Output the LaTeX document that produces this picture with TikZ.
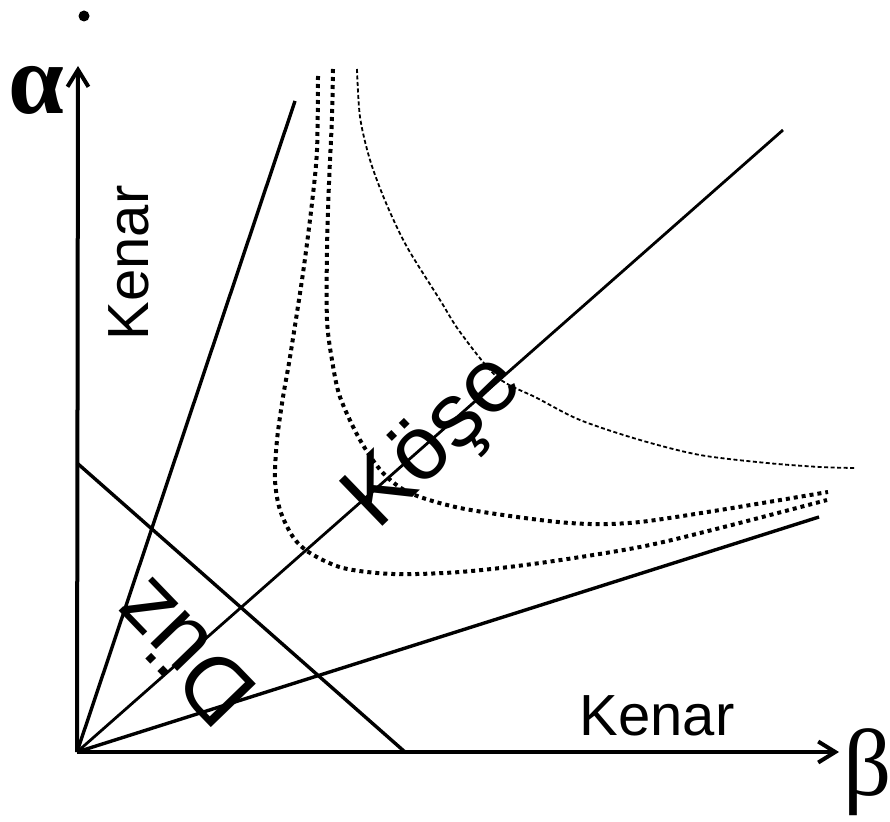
\documentclass[tikz,border=0pt]{standalone}
\usepackage{fontspec}
\setmainfont{Liberation Sans}
\newfontfamily\grk{Liberation Serif}
\usetikzlibrary{arrows.meta}
\begin{document}
\begin{tikzpicture}[x=1pt,y=-1pt,
  axis/.style={line width=4pt, -{Straight Barb[length=17pt,width=21pt]}},
  ray/.style={line width=3.4pt},
  thinray/.style={line width=2.8pt},
  dotcurve/.style={line width=4pt, dash pattern=on 4pt off 4pt},
  dashcurve/.style={line width=1.8pt, dash pattern=on 4pt off 2.5pt},
  lbl/.style={inner sep=0pt, font=\fontsize{58}{60}\selectfont},
  big/.style={inner sep=0pt, font=\fontsize{91}{95}\selectfont},
  greek/.style={inner sep=0pt, font=\grk\fontsize{95}{95}\selectfont},
]
\useasboundingbox (0,0) rectangle (890,821);
\coordinate (O) at (77,752);
\coordinate (Ytip) at (78,66);
\coordinate (Xtip) at (839,752);
\coordinate (S) at (295,101);
\coordinate (D) at (783,130);
\coordinate (L) at (819,517);
\coordinate (F1) at (77,463);
\coordinate (F2) at (405,752);
% axes
\draw[axis] (O) -- (Ytip);
\draw[axis] (O) -- (Xtip);
% rays
\draw[ray] (O) -- (S);
\draw[thinray] (O) -- (D);
\draw[ray] (O) -- (L);
\draw[ray] (F1) -- (F2);
% curves
\draw[dotcurve] plot[smooth] coordinates {(318,76) (317,150) (312,203) (303,273) (290,357) (283,397) (277,440) (275,480) (280,510) (293,537) (310,553) (343,568) (393,574) (460,572) (540,563) (640,547) (720,528) (827,500)};
\draw[dotcurve] plot[smooth] coordinates {(333,69) (332,117) (329,183) (327,250) (327,320) (332,360) (340,397) (360,440) (383,473) (410,493) (460,508) (540,520) (590,524) (640,522) (720,510) (828,492)};
\draw[dashcurve] plot[smooth] coordinates {(357,69) (360,117) (370,160) (386,203) (407,247) (440,300) (460,332) (497,377) (537,398) (580,420) (640,440) (700,455) (767,463) (820,467) (855,468)};
% dot
\fill (84,16) circle (5.5pt);
% labels
\node[greek, font=\grk\bfseries\fontsize{100}{100}\selectfont] (alpha) at (36,90) {α};
\node[greek] (beta) at (868,772) {β};
\node[lbl, rotate=90] (kenarv) at (129,263) {Kenar};
\node[lbl] (kenarh) at (657,716) {Kenar};
\node[big, rotate=44, anchor=base west] (kose) at (377,532) {Köşe};
\node[big, rotate=134, anchor=base west] (duz) at (262,690) {Düz};
\end{tikzpicture}
\end{document}
